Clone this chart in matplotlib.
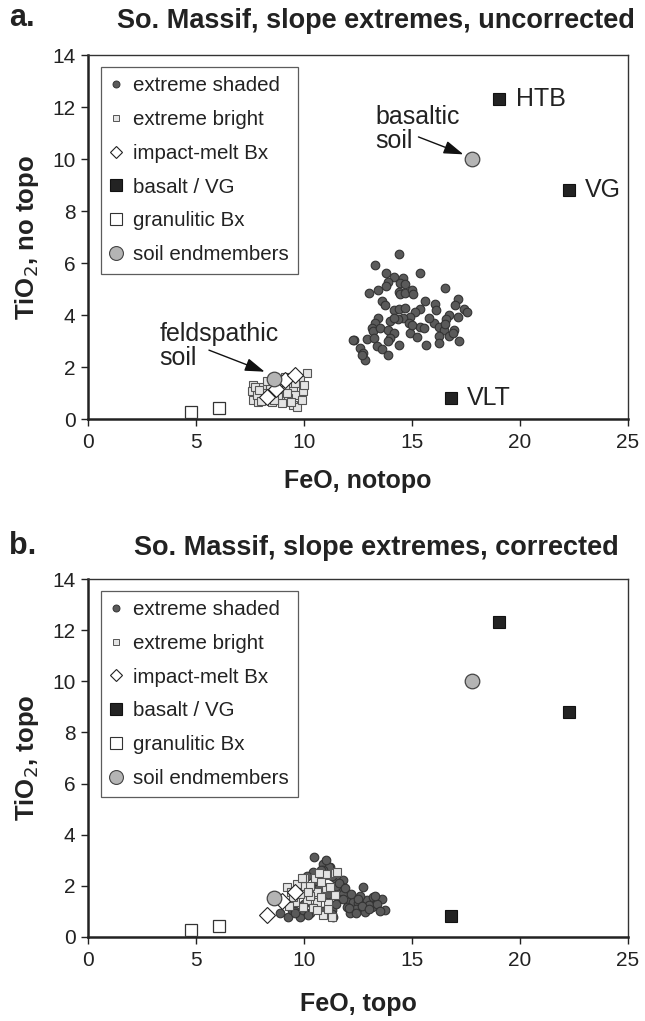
import matplotlib
matplotlib.use("Agg")
import matplotlib.pyplot as plt
from matplotlib.lines import Line2D

plt.rcParams['font.family'] = ['Liberation Sans', 'DejaVu Sans']

# ---------------- Panel a data (uncorrected) ----------------
a_shaded_feo = [14.41, 13.3, 13.8, 15.38, 14.15, 14.6, 13.87, 14.46, 14.69, 13.82, 13.45, 13.02,
                14.38, 14.46, 14.69, 14.98, 15.07, 16.54, 15.6, 16.08, 13.6, 13.73, 16.1, 17.13,
                17.0, 17.39, 17.55, 14.15, 14.38, 14.69, 15.38, 15.15, 14.92, 14.6, 14.35, 13.99,
                13.45, 13.3, 13.14, 13.19, 13.53, 13.91, 14.15, 13.99, 13.91, 12.91, 13.22, 12.32,
                12.6, 12.71, 13.37, 13.6, 13.91, 14.41, 14.92, 15.23, 15.38, 15.54, 15.65, 16.0,
                16.23, 16.47, 16.7, 16.57, 16.54, 16.93, 16.7, 16.23, 16.23, 17.12, 17.16, 14.15,
                14.84, 12.83, 12.68, 12.29, 15.0, 15.8, 16.9]
a_shaded_tio = [6.34, 5.93, 5.63, 5.63, 5.45, 5.41, 5.27, 5.25, 5.18, 5.12, 4.96, 4.83,
                4.9, 4.8, 4.83, 4.96, 4.8, 5.05, 4.54, 4.41, 4.54, 4.38, 4.21, 4.6,
                4.37, 4.25, 4.11, 4.19, 4.24, 4.28, 4.24, 4.11, 3.93, 3.89, 3.83, 3.76,
                3.87, 3.7, 3.51, 3.4, 3.51, 3.41, 3.29, 3.12, 2.99, 3.08, 3.12, 3.03,
                2.73, 2.54, 2.79, 2.71, 2.47, 2.86, 3.31, 3.16, 3.55, 3.51, 2.86, 3.7,
                3.55, 3.44, 4.02, 3.83, 3.64, 3.44, 3.21, 3.18, 2.93, 3.93, 2.99, 3.89,
                3.7, 2.28, 2.47, 3.03, 3.6, 3.9, 3.3]
a_bright_feo = [10.13, 7.65, 7.58, 7.65, 8.04, 8.43, 8.66, 9.04, 9.51, 9.97, 9.59, 8.97, 8.5,
                7.88, 9.51, 9.66, 9.28, 9.82, 7.81, 8.2, 8.81, 9.28, 9.9, 7.73, 9.12, 8.3, 9.0,
                8.0, 8.3, 8.8, 9.2, 9.6, 7.9, 8.6, 9.4, 10.0, 9.1]
a_bright_tio = [1.77, 1.31, 1.06, 0.73, 1.25, 1.19, 0.99, 1.06, 1.25, 1.06, 0.93, 0.73, 0.67,
                0.67, 0.54, 0.45, 1.38, 1.51, 0.93, 0.86, 0.86, 0.8, 0.73, 1.25, 1.31, 1.45, 0.6,
                0.7, 1.0, 1.2, 1.0, 1.4, 1.1, 0.75, 0.65, 1.3, 1.6]
a_melt_feo = [8.3, 9.1, 9.6, 8.7]
a_melt_tio = [0.85, 1.5, 1.7, 1.15]

# ---------------- Panel b data (corrected) ----------------
b_shaded_feo = [10.48, 10.9, 11.2, 10.43, 10.12, 11.82, 12.75, 11.44, 11.17, 11.74, 11.82, 12.05,
                12.28, 12.51, 12.9, 13.2, 13.36, 13.6, 13.75, 13.13, 12.82, 12.13, 11.36, 10.28,
                9.81, 9.27, 8.89, 9.43, 9.97, 10.51, 11.28, 11.97, 12.4, 13.0, 11.6, 10.7,
                9.6, 12.6, 11.5, 10.9, 10.0, 10.3, 10.6, 10.8, 11.0, 11.3, 11.6, 11.9,
                12.2, 12.5, 12.7, 13.0, 13.4, 13.5, 11.1, 11.5, 11.8, 12.1, 10.2, 9.6,
                10.9, 11.3, 12.4, 13.3]
b_shaded_tio = [3.14, 2.85, 2.75, 2.55, 2.38, 2.23, 1.94, 2.29, 2.72, 1.96, 1.7, 1.38,
                1.38, 1.31, 1.45, 1.57, 1.45, 1.47, 1.05, 1.18, 0.99, 0.92, 0.79, 0.92,
                0.79, 0.77, 0.92, 1.05, 1.05, 1.18, 1.05, 1.18, 1.1, 1.25, 1.5, 2.0,
                1.0, 1.6, 2.0, 2.6, 1.3, 1.6, 2.2, 2.6, 3.0, 2.4, 2.1, 1.9,
                1.7, 1.5, 1.2, 1.1, 1.3, 1.0, 1.7, 1.3, 1.5, 1.15, 0.85, 0.95,
                1.0, 0.9, 0.95, 1.6]
b_bright_feo = [9.2, 9.66, 10.05, 10.51, 11.05, 11.44, 11.0, 10.59, 10.12, 10.59, 11.13, 11.44,
                9.97, 10.43, 10.9, 11.28, 9.58, 9.81, 11.02, 11.51, 10.3, 10.8, 9.4, 10.0,
                9.9, 10.3, 10.7, 10.2, 10.8, 11.2, 9.5, 10.6, 11.1, 9.3]
b_bright_tio = [1.96, 2.07, 1.99, 2.29, 2.42, 2.51, 1.9, 1.77, 1.45, 1.38, 1.31, 1.64,
                1.18, 1.12, 0.86, 0.79, 1.38, 1.7, 2.48, 2.55, 1.6, 2.15, 1.75, 2.3,
                2.3, 2.0, 2.5, 1.75, 1.55, 1.95, 1.55, 1.05, 1.1, 1.2]
b_melt_feo = [8.3, 9.6, 9.0]
b_melt_tio = [0.85, 1.75, 1.4]

# ---------------- Common endmembers ----------------
basalt_names = ["HTB", "VG", "VLT"]
basalt_feo = [19.05, 22.25, 16.8]
basalt_tio = [12.3, 8.8, 0.82]
granulitic_feo = [4.75, 6.05]
granulitic_tio = [0.28, 0.42]
soil_names = ["basaltic\nsoil", "feldspathic\nsoil"]
soil_feo = [17.8, 8.6]
soil_tio = [10.0, 1.52]

legend_labels = ["extreme shaded", "extreme bright", "impact-melt Bx",
                 "basalt / VG", "granulitic Bx", "soil endmembers"]

xticks = [0, 5, 10, 15, 20, 25]
yticks = [0, 2, 4, 6, 8, 10, 12, 14]

C_SHADED = "#5a5a5a"
C_BRIGHT = "#e4e4e4"
C_BASALT = "#232323"
C_SOIL = "#b4b4b4"
TXT = "#222222"

fig = plt.figure(figsize=(6.45, 10.21), dpi=100)
ax_a = fig.add_axes([0.1364, 0.5896, 0.8372, 0.3565])
ax_b = fig.add_axes([0.1364, 0.0823, 0.8372, 0.3506])


def draw(ax, sh_x, sh_y, br_x, br_y, me_x, me_y):
    ax.plot(sh_x, sh_y, 'o', ms=6.2, mfc=C_SHADED, mec="#333333", mew=0.8, ls='none', zorder=3)
    ax.plot(br_x, br_y, 's', ms=6.0, mfc=C_BRIGHT, mec="#555555", mew=0.8, ls='none', zorder=4)
    ax.plot(me_x, me_y, 'D', ms=8, mfc="white", mec="#222222", mew=0.8, ls='none', zorder=5)
    ax.plot(basalt_feo, basalt_tio, 's', ms=8.5, mfc=C_BASALT, mec="#111111", mew=0.8, ls='none', zorder=5)
    ax.plot(granulitic_feo, granulitic_tio, 's', ms=8.5, mfc="white", mec="#333333", mew=0.9, ls='none', zorder=5)
    ax.plot(soil_feo, soil_tio, 'o', ms=10.5, mfc=C_SOIL, mec="#444444", mew=0.9, ls='none', zorder=6)

    ax.set_xlim(0, 25)
    ax.set_ylim(0, 14)
    ax.set_xticks(xticks)
    ax.set_yticks(yticks)
    ax.tick_params(direction='out', length=5, width=1, labelsize=15, colors=TXT, pad=5)
    ax.tick_params(axis='y', pad=4)
    for s in ['left', 'bottom']:
        ax.spines[s].set_linewidth(1.8)
        ax.spines[s].set_color(TXT)
    for s in ['top', 'right']:
        ax.spines[s].set_linewidth(1.0)
        ax.spines[s].set_color("#333333")

    handles = [
        Line2D([], [], marker='o', ls='none', ms=5, mfc=C_SHADED, mec="#333333", mew=0.7),
        Line2D([], [], marker='s', ls='none', ms=5, mfc=C_BRIGHT, mec="#555555", mew=0.7),
        Line2D([], [], marker='D', ls='none', ms=6.5, mfc="white", mec="#222222", mew=0.8),
        Line2D([], [], marker='s', ls='none', ms=8.5, mfc=C_BASALT, mec="#111111", mew=0.8),
        Line2D([], [], marker='s', ls='none', ms=8.5, mfc="white", mec="#333333", mew=0.8),
        Line2D([], [], marker='o', ls='none', ms=10, mfc=C_SOIL, mec="#444444", mew=0.8),
    ]
    leg = ax.legend(handles, legend_labels, loc='upper left', bbox_to_anchor=(0.024, 0.967),
                    fontsize=14.8, frameon=True, fancybox=False, edgecolor="#333333",
                    borderpad=0.45, labelspacing=0.72, handletextpad=0.55, handlelength=0.55,
                    borderaxespad=0)
    leg.get_frame().set_linewidth(0.9)
    for t in leg.get_texts():
        t.set_color(TXT)


draw(ax_a, a_shaded_feo, a_shaded_tio, a_bright_feo, a_bright_tio, a_melt_feo, a_melt_tio)
draw(ax_b, b_shaded_feo, b_shaded_tio, b_bright_feo, b_bright_tio, b_melt_feo, b_melt_tio)

# Panel a annotations
for nm, fx, ty in zip(basalt_names, basalt_feo, basalt_tio):
    ax_a.text(fx + 0.75, ty, nm, fontsize=18, va='center', ha='left', color=TXT)

arrow = dict(arrowstyle='-|>,head_length=1.2,head_width=0.4', color="#111111", lw=1,
             shrinkA=0, shrinkB=0)
ax_a.text(13.3, 10.25, soil_names[0], fontsize=18, ha='left', va='bottom', color=TXT, linespacing=1.0)
ax_a.annotate("", xy=(soil_feo[0] - 0.42, soil_tio[0] + 0.18), xytext=(15.3, 10.85),
              arrowprops=arrow)
ax_a.text(3.3, 1.9, soil_names[1], fontsize=18, ha='left', va='bottom', color=TXT, linespacing=1.0)
ax_a.annotate("", xy=(soil_feo[1] - 0.42, soil_tio[1] + 0.3), xytext=(5.6, 2.65),
              arrowprops=arrow)

ax_a.set_xlabel("FeO, notopo", fontsize=18, fontweight='bold', labelpad=12, color=TXT)
ax_a.set_ylabel("TiO$_2$, no topo", fontsize=18.5, fontweight='bold', labelpad=8, color=TXT)
ax_b.set_xlabel("FeO, topo", fontsize=18, fontweight='bold', labelpad=16, color=TXT)
ax_b.set_ylabel("TiO$_2$, topo", fontsize=18.5, fontweight='bold', labelpad=8, color=TXT)

fig.text(0.583, 0.979, "So. Massif, slope extremes, uncorrected", fontsize=19.5, fontweight='bold',
         ha='center', va='center', color=TXT)
fig.text(0.583, 0.463, "So. Massif, slope extremes, corrected", fontsize=19.5, fontweight='bold',
         ha='center', va='center', color=TXT)
fig.text(0.014, 0.982, "a.", fontsize=22, fontweight='bold', ha='left', va='center', color=TXT)
fig.text(0.014, 0.465, "b.", fontsize=22, fontweight='bold', ha='left', va='center', color=TXT)

fig.savefig("out.png", dpi=100)
